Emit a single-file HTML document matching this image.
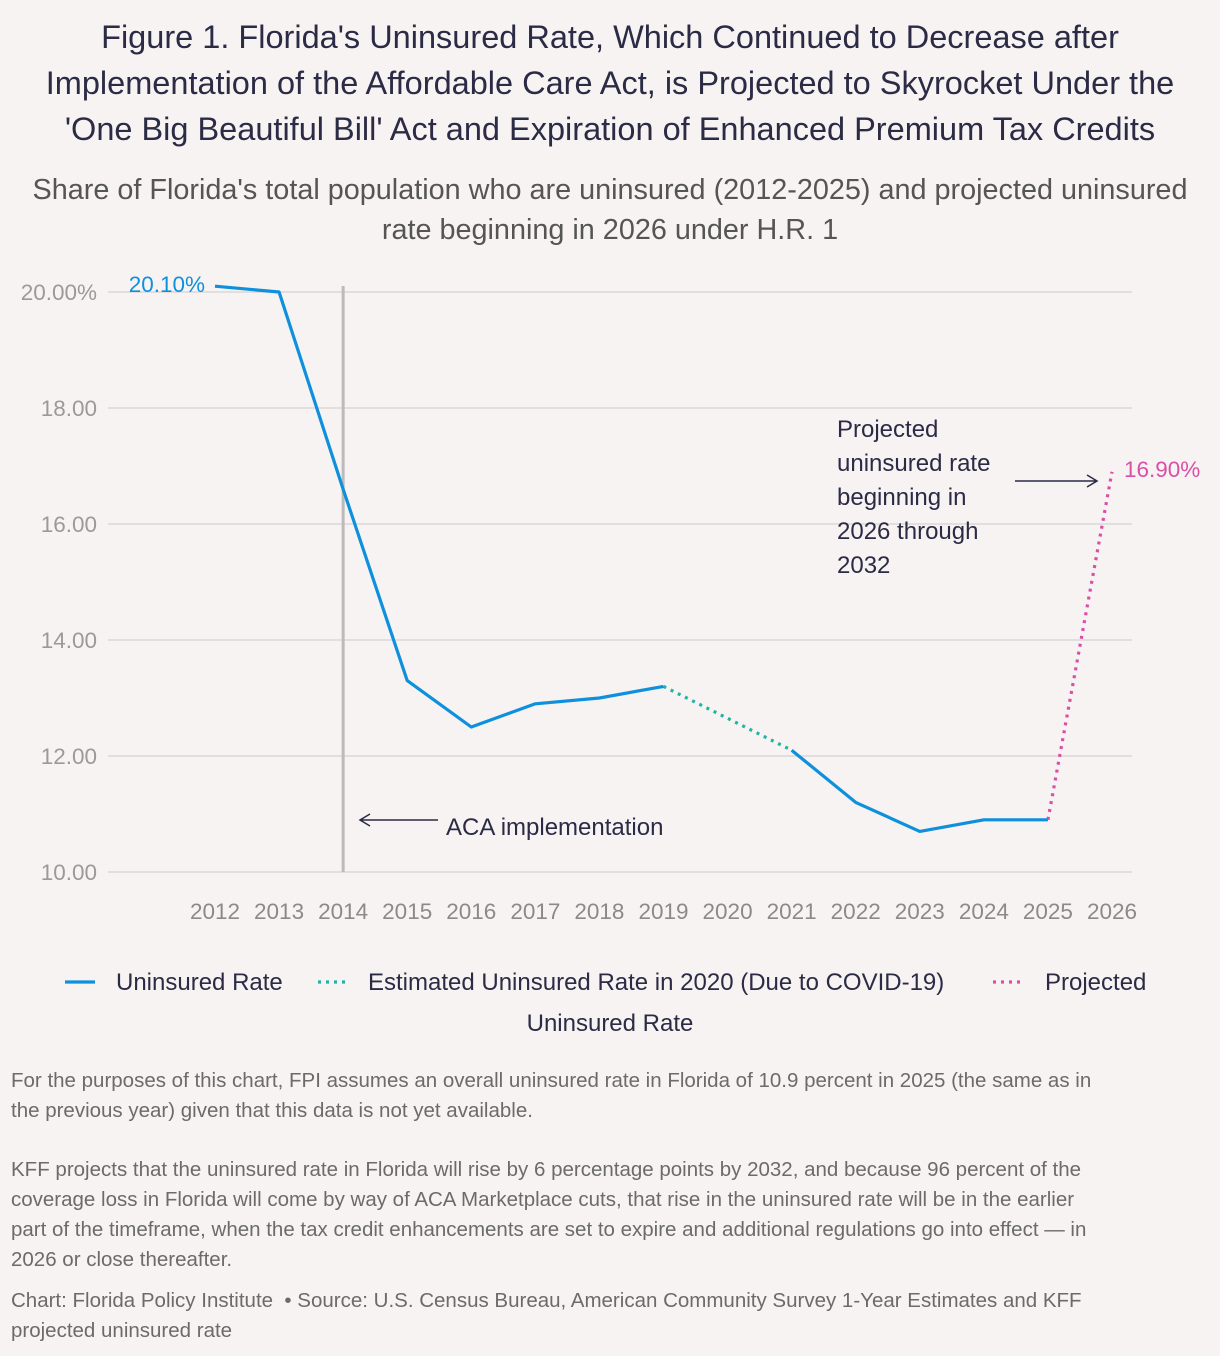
<!DOCTYPE html>
<html><head><meta charset="utf-8"><style>
body{margin:0;background:#f7f3f2;font-family:"Liberation Sans",sans-serif;}
#wrap{position:relative;width:1220px;height:1356px;overflow:hidden;background:#f7f3f2;}
.t{position:absolute;left:0;width:1220px;text-align:center;}
.note{position:absolute;left:11px;width:1200px;font-size:20.5px;line-height:30px;color:#6b6b6b;white-space:nowrap;}
</style></head><body>
<div id="wrap">
<div class="t" style="top:14px;font-size:32.5px;line-height:46px;color:#2b2b45;">Figure 1. Florida's Uninsured Rate, Which Continued to Decrease after<br>Implementation of the Affordable Care Act, is Projected to Skyrocket Under the<br>'One Big Beautiful Bill' Act and Expiration of Enhanced Premium Tax Credits</div>
<div class="t" style="top:170px;font-size:28.8px;line-height:40px;color:#555;">Share of Florida's total population who are uninsured (2012-2025) and projected uninsured<br>rate beginning in 2026 under H.R. 1</div>
<svg id="chart" width="1220" height="1060" style="position:absolute;left:0;top:0"></svg>
<div class="note" style="top:1066px;">For the purposes of this chart, FPI assumes an overall uninsured rate in Florida of 10.9 percent in 2025 (the same as in<br>the previous year) given that this data is not yet available.</div>
<div class="note" style="top:1155px;">KFF projects that the uninsured rate in Florida will rise by 6 percentage points by 2032, and because 96 percent of the<br>coverage loss in Florida will come by way of ACA Marketplace cuts, that rise in the uninsured rate will be in the earlier<br>part of the timeframe, when the tax credit enhancements are set to expire and additional regulations go into effect — in<br>2026 or close thereafter.</div>
<div class="note" style="top:1286px;">Chart: Florida Policy Institute &nbsp;• Source: U.S. Census Bureau, American Community Survey 1-Year Estimates and KFF<br>projected uninsured rate</div>
</div>
<script>
const years=[2012,2013,2014,2015,2016,2017,2018,2019,2020,2021,2022,2023,2024,2025,2026];
const actual=[20.1,20.0,16.6,13.3,12.5,12.9,13.0,13.2,null,12.1,11.2,10.7,10.9,10.9,null];
const covidEst=[null,null,null,null,null,null,null,13.2,12.65,12.1,null,null,null,null,null];
const projected=[null,null,null,null,null,null,null,null,null,null,null,null,null,10.9,16.9];
const yTicks=[10,12,14,16,18,20];
const yTickLabels=["10.00","12.00","14.00","16.00","18.00","20.00%"];
const NS="http://www.w3.org/2000/svg";
const svg=document.getElementById('chart');
const x=y=>215+(y-2012)*(1112-215)/14;
const yv=v=>872-(v-10)*58;
function mk(t,a,txt){const e=document.createElementNS(NS,t);for(const k in a)e.setAttribute(k,a[k]);if(txt!=null)e.textContent=txt;svg.appendChild(e);return e;}
yTicks.forEach((t,i)=>{
 const g=mk('line',{x1:108,x2:1132,y1:yv(t),y2:yv(t),stroke:'#dcd8d7','stroke-width':1.5});
 
 const l=mk('text',{x:97,y:yv(t)+8,'text-anchor':'end','font-size':22.5,fill:'#9a9a9a','font-family':'Liberation Sans'},yTickLabels[i]);
 
});
years.forEach(yr=>{
 const l=mk('text',{x:x(yr),y:919,'text-anchor':'middle','font-size':22.5,fill:'#8a8a8a','font-family':'Liberation Sans'},yr);
 
});
const vl=mk('line',{x1:x(2014),x2:x(2014),y1:286,y2:872,stroke:'#bdbaba','stroke-width':3});

function path(arr,color,dash,name){
 let segs=[],cur=[];
 arr.forEach((v,i)=>{if(v==null){if(cur.length)segs.push(cur);cur=[];}else cur.push([x(years[i]),yv(v)]);});
 if(cur.length)segs.push(cur);
 segs.forEach(s=>{const a={d:'M'+s.map(p=>p.join(',')).join('L'),fill:'none',stroke:color,'stroke-width':3.2,'stroke-linejoin':'round'};
  if(dash)a['stroke-dasharray']=dash;const p=mk('path',a);
  });
}
path(covidEst,'#1fb5a5','3 5','covid-estimate-line');
path(projected,'#d94fa7','3 5','projected-line');
path(actual,'#0e90dd',null,'uninsured-rate-line');
let e=mk('text',{x:205,y:292,'text-anchor':'end','font-size':22.5,fill:'#0e90dd','font-family':'Liberation Sans'},'20.10%');

e=mk('text',{x:1124,y:477,'font-size':22.5,fill:'#d94fa7','font-family':'Liberation Sans'},'16.90%');

['Projected','uninsured rate','beginning in','2026 through','2032'].forEach((s,i)=>{
 const t=mk('text',{x:837,y:437+i*34,'font-size':24,fill:'#2b2b45','font-family':'Liberation Sans'},s);
 });
e=mk('path',{d:'M1015,481L1097,481M1087,475L1097,481L1087,487',stroke:'#2b2b45','stroke-width':1.5,fill:'none'});

e=mk('path',{d:'M438,820L360,820M370,814L360,820L370,826',stroke:'#2b2b45','stroke-width':1.5,fill:'none'});

e=mk('text',{x:446,y:835,'font-size':24,fill:'#2b2b45','font-family':'Liberation Sans'},'ACA implementation');

const leg=[[65,'#0e90dd',null,116,'Uninsured Rate'],[318,'#1fb5a5','3 5',368,'Estimated Uninsured Rate in 2020 (Due to COVID-19)'],[993,'#d94fa7','3 5',1045,'Projected']];
leg.forEach(l=>{const a={x1:l[0],x2:l[0]+30,y1:982,y2:982,stroke:l[1],'stroke-width':3.2};if(l[2])a['stroke-dasharray']=l[2];
 const s=mk('line',a);
 const t=mk('text',{x:l[3],y:990,'font-size':24,fill:'#2b2b45','font-family':'Liberation Sans'},l[4]);
 });
e=mk('text',{x:610,y:1031,'text-anchor':'middle','font-size':24,fill:'#2b2b45','font-family':'Liberation Sans'},'Uninsured Rate');

</script>
</body></html>
